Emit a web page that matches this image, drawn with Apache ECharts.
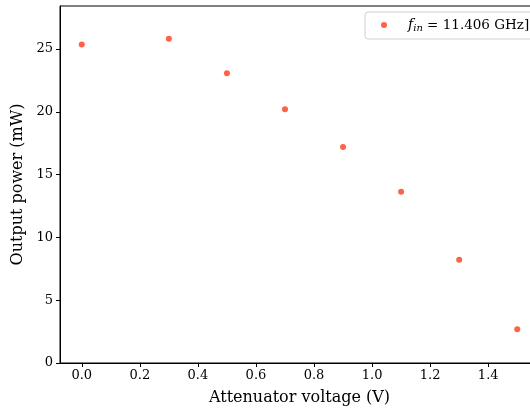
<!DOCTYPE html>
<html>
<head>
<meta charset="utf-8">
<script src="https://cdn.jsdelivr.net/npm/echarts@6/dist/echarts.min.js"></script>
<style>html,body{margin:0;padding:0;background:#fff}#c{width:530px;height:410px}</style>
</head>
<body>
<div id="c"></div>
<script>
const voltages = [0.0, 0.3, 0.5, 0.7, 0.9, 1.1, 1.3, 1.5];
const powers = [25.37, 25.82, 23.07, 20.20, 17.20, 13.63, 8.22, 2.68];
const xTicks = [0.0, 0.2, 0.4, 0.6, 0.8, 1.0, 1.2, 1.4];
const yTicks = [0, 5, 10, 15, 20, 25];
const seriesName = 'fin';
const legendLabel = ' = 11.406 GHz]';

const font = 'DejaVu Serif';
const chart = echarts.init(document.getElementById('c'), null, {renderer: 'canvas'});
const pts = voltages.map((v, i) => [v, powers[i]]);
chart.setOption({
  animation: false,
  backgroundColor: '#fff',
  grid: {left: 60, right: -9, top: 6, bottom: 47, show: true, borderColor: '#000', borderWidth: 1,
    containLabel: false, outerBoundsMode: 'none'},
  xAxis: {
    type: 'value', min: -0.075, max: 1.575,
    name: 'Attenuator voltage (V)', nameLocation: 'middle', nameGap: 27,
    nameTextStyle: {fontFamily: font, fontSize: 16, color: '#000'},
    axisLine: {show: true, onZero: false, lineStyle: {color: '#000', width: 1}},
    axisTick: {show: true, length: 4, lineStyle: {color: '#000'}, customValues: xTicks},
    axisLabel: {fontFamily: font, fontSize: 13, color: '#000', margin: 6, customValues: xTicks,
      formatter: v => v.toFixed(1)},
    splitLine: {show: false}
  },
  yAxis: {
    type: 'value', min: 0, max: 28.43,
    name: 'Output power (mW)', nameLocation: 'middle', nameGap: 34,
    nameTextStyle: {fontFamily: font, fontSize: 16, color: '#000'},
    axisLine: {show: true, onZero: false, lineStyle: {color: '#000', width: 1}},
    axisTick: {show: true, length: 4, lineStyle: {color: '#000'}, customValues: yTicks},
    axisLabel: {fontFamily: font, fontSize: 13, color: '#000', margin: 7, customValues: yTicks},
    splitLine: {show: false}
  },
  legend: {
    left: 365, top: 12,
    padding: [6, 16, 6, 16],
    borderColor: '#d0d0d0', borderWidth: 1, borderRadius: 3, backgroundColor: '#fff',
    icon: 'circle', itemWidth: 6, itemHeight: 6, itemGap: 0,
    data: [seriesName],
    formatter: () => '{f|f}{s|in}{n|' + legendLabel + '}',
    textStyle: {
      fontFamily: font, fontSize: 13, color: '#000', padding: [0, 0, 0, 16],
      rich: {
        f: {fontFamily: font, fontStyle: 'italic', fontSize: 14, color: '#000'},
        s: {fontFamily: font, fontStyle: 'italic', fontSize: 10, color: '#000', padding: [6, 0, 0, 0]},
        n: {fontFamily: font, fontSize: 13.5, color: '#000'}
      }
    }
  },
  series: [{
    name: seriesName, type: 'scatter', data: pts, symbolSize: 6,
    itemStyle: {color: '#ff6347', opacity: 1}
  }]
});
</script>
</body>
</html>
